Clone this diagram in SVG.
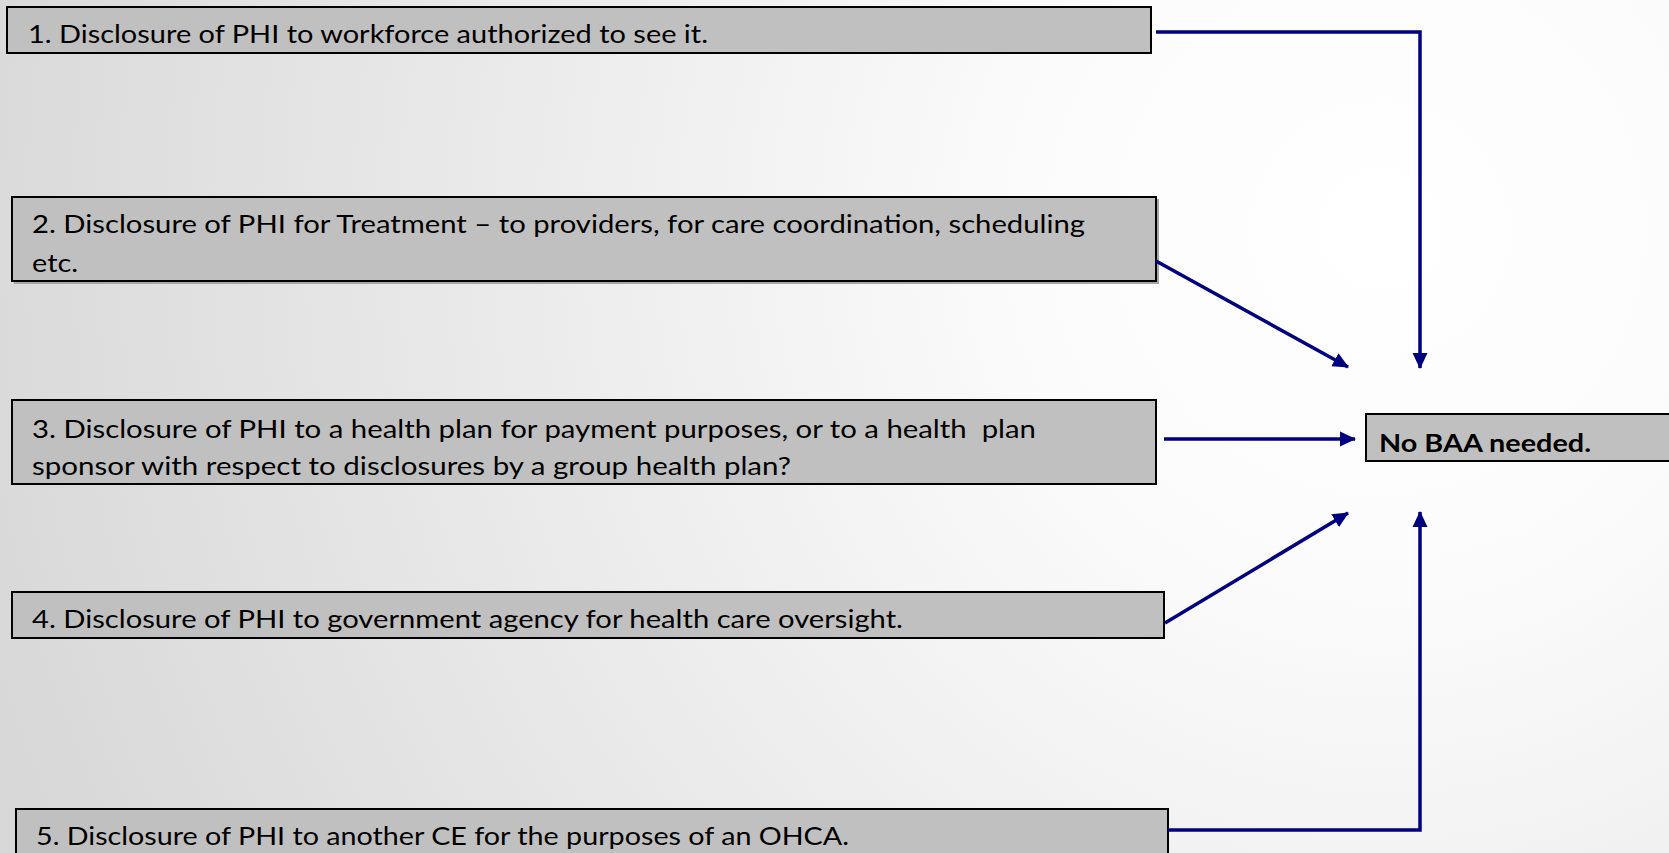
<svg xmlns="http://www.w3.org/2000/svg" width="1669" height="853" viewBox="0 0 1669 853">
  <defs>
    <radialGradient id="bg" gradientUnits="userSpaceOnUse" cx="1380" cy="230" r="1450">
      <stop offset="0" stop-color="#ffffff"/>
      <stop offset="0.25" stop-color="#fbfbfb"/>
      <stop offset="1" stop-color="#d8d8d8"/>
    </radialGradient>
    <marker id="arrow" markerUnits="userSpaceOnUse" markerWidth="16" markerHeight="16" viewBox="0 0 16 16" refX="15" refY="8" orient="auto">
      <path d="M0,0.5 L16,8 L0,15.5 Z" fill="#000080"/>
    </marker>
  </defs>
  <style>
    .box { fill: #c0c0c0; stroke: #000000; stroke-width: 2; }
    .shadow { fill: #a6a6a6; }
    .label { font-family: Lato, "Open Sans", "Liberation Sans", sans-serif; font-size: 25px; fill: #000000; }
    .bold { font-weight: bold; }
    .conn { fill: none; stroke: #000080; stroke-width: 3.5; marker-end: url(#arrow); }
  </style>

  <rect x="0" y="0" width="1669" height="853" fill="url(#bg)"/>

  <g id="node-1">
    <rect class="box" x="7" y="7" width="1144" height="46"/>
    <text class="label" x="28" y="43" textLength="680" lengthAdjust="spacingAndGlyphs">1. Disclosure of PHI to workforce authorized to see it.</text>
  </g>

  <g id="node-2">
    <rect class="shadow" x="14" y="199" width="1145" height="85"/>
    <rect class="box" x="12" y="197" width="1144" height="84"/>
    <text class="label" x="32" y="233" textLength="1053" lengthAdjust="spacingAndGlyphs">2. Disclosure of PHI for Treatment – to providers, for care coordination, scheduling</text>
    <text class="label" x="32" y="272" textLength="46" lengthAdjust="spacingAndGlyphs">etc.</text>
  </g>

  <g id="node-3">
    <rect class="box" x="12" y="400" width="1144" height="84"/>
    <text class="label" x="32" y="438" textLength="1004" lengthAdjust="spacingAndGlyphs" xml:space="preserve">3. Disclosure of PHI to a health plan for payment purposes, or to a health  plan</text>
    <text class="label" x="32" y="475" textLength="759" lengthAdjust="spacingAndGlyphs">sponsor with respect to disclosures by a group health plan?</text>
  </g>

  <g id="node-4">
    <rect class="box" x="12" y="592" width="1152" height="46"/>
    <text class="label" x="32" y="628" textLength="871" lengthAdjust="spacingAndGlyphs">4. Disclosure of PHI to government agency for health care oversight.</text>
  </g>

  <g id="node-5">
    <rect class="box" x="16" y="809" width="1152" height="60"/>
    <text class="label" x="36" y="845" textLength="813" lengthAdjust="spacingAndGlyphs">5. Disclosure of PHI to another CE for the purposes of an OHCA.</text>
  </g>

  <g id="node-result">
    <rect class="box" x="1366" y="414" width="320" height="47"/>
    <text class="label bold" x="1379" y="452" textLength="212" lengthAdjust="spacingAndGlyphs">No BAA needed.</text>
  </g>

  <g id="connectors">
    <path class="conn" d="M1156,32 L1420,32 L1420,368"/>
    <path class="conn" d="M1156,261 L1348,367"/>
    <path class="conn" d="M1164,439 L1355,439"/>
    <path class="conn" d="M1165,623 L1348,513"/>
    <path class="conn" d="M1168,830 L1420,830 L1420,512"/>
  </g>
</svg>
